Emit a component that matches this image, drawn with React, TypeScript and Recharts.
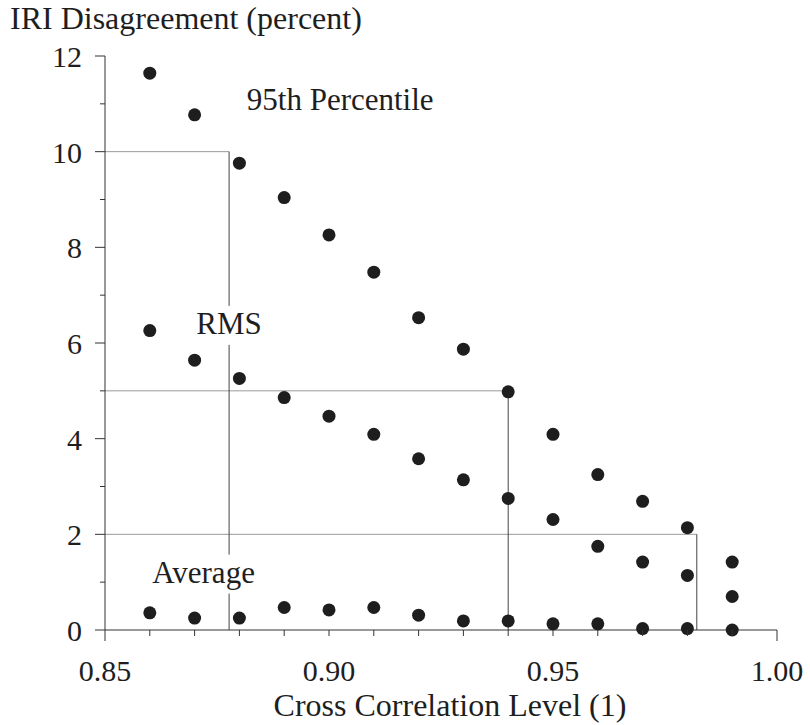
import React from "react";
import {
  ScatterChart,
  Scatter,
  XAxis,
  YAxis,
  ReferenceLine,
  ReferenceDot,
} from "recharts";

const crossCorr = [0.86, 0.87, 0.88, 0.89, 0.9, 0.91, 0.92, 0.93, 0.94, 0.95, 0.96, 0.97, 0.98, 0.99];
const pct95 = [11.64, 10.77, 9.76, 9.04, 8.26, 7.48, 6.53, 5.87, 4.98, 4.09, 3.25, 2.69, 2.14, 1.42];
const rmsVals = [6.26, 5.64, 5.26, 4.86, 4.47, 4.09, 3.58, 3.14, 2.75, 2.31, 1.75, 1.42, 1.14, 0.7];
const avgVals = [0.36, 0.25, 0.25, 0.47, 0.42, 0.47, 0.31, 0.19, 0.19, 0.13, 0.13, 0.03, 0.03, 0.0];

const xTicks = [0.85, 0.86, 0.87, 0.88, 0.89, 0.9, 0.91, 0.92, 0.93, 0.94, 0.95, 0.96, 0.97, 0.98, 0.99, 1.0];
const yTicks = [0, 1, 2, 3, 4, 5, 6, 7, 8, 9, 10, 11, 12];

// threshold readings: disagreement level -> cross correlation level
const thresholdLevels = [10, 5, 2];
const thresholdCorr = [0.8777, 0.94, 0.9821];

const seriesLabels = [
  { text: "95th Percentile", x: 0.9025, y: 11.08 },
  { text: "RMS", x: 0.8777, y: 6.4 },
  { text: "Average", x: 0.872, y: 1.2 },
];

const FONT = '"Liberation Serif", "Times New Roman", serif';
const FS_TICK = 30;
const FS_LABEL = 31;
const FS_TITLE = 32;
const INK = "#1e1e1e";
const AXIS = "#333";

const toPts = (vals: number[]) => crossCorr.map((x, i) => ({ x, y: vals[i] }));

const Dot = (p: any) => <circle cx={p.cx} cy={p.cy} r={6.5} fill={INK} />;

const XTick = (props: any) => {
  const { x, y, payload } = props;
  const v = payload.value as number;
  const hundredths = Math.round(v * 100);
  const major = hundredths % 5 === 0;
  const end = hundredths === 85 || hundredths === 100;
  return (
    <g>
      <line x1={x} x2={x} y1={y} y2={y + (end ? 11 : 6)} stroke={AXIS} strokeWidth={1} />
      {major && (
        <text x={x} y={y + 51} textAnchor="middle" fontFamily={FONT} fontSize={FS_TICK} fill={INK}>
          {v.toFixed(2)}
        </text>
      )}
    </g>
  );
};

const YTick = (props: any) => {
  const { x, y, payload } = props;
  const v = payload.value as number;
  const major = v % 2 === 0;
  return (
    <g>
      <line x1={x - (major ? 10 : 5)} x2={x} y1={y} y2={y} stroke={AXIS} strokeWidth={1} />
      {major && (
        <text x={x - 23} y={y + 11} textAnchor="end" fontFamily={FONT} fontSize={FS_TICK} fill={INK}>
          {v}
        </text>
      )}
    </g>
  );
};

const makeLabel = (text: string) => (p: any) => {
  const w = text.length * FS_LABEL * 0.52;
  return (
    <g>
      <rect x={p.cx - w / 2} y={p.cy - 18} width={w} height={39} fill="#fff" />
      <text
        x={p.cx}
        y={p.cy + 10}
        textAnchor="middle"
        fontFamily={FONT}
        fontSize={FS_LABEL}
        fill={INK}
      >
        {text}
      </text>
    </g>
  );
};

export default function App() {
  return (
    <div style={{ position: "absolute", left: 0, top: 0, background: "#fff" }}>
      <ScatterChart
        width={810}
        height={725}
        margin={{ top: 56, right: 33, left: 0, bottom: 0 }}
      >
        <XAxis
          type="number"
          dataKey="x"
          domain={[0.85, 1.0]}
          ticks={xTicks}
          interval={0}
          height={95}
          tickSize={0}
          tickMargin={0}
          tickLine={false}
          axisLine={{ stroke: AXIS, strokeWidth: 1 }}
          tick={<XTick />}
          label={{
            content: () => (
              <text x={450} y={716} textAnchor="middle" fontFamily={FONT} fontSize={FS_TITLE} fill={INK}>
                Cross Correlation Level (1)
              </text>
            ),
          }}
        />
        <YAxis
          type="number"
          dataKey="y"
          domain={[0, 12]}
          ticks={yTicks}
          interval={0}
          width={105}
          tickSize={0}
          tickMargin={0}
          tickLine={false}
          axisLine={{ stroke: AXIS, strokeWidth: 1 }}
          tick={<YTick />}
          label={{
            content: () => (
              <text x={10} y={29} textAnchor="start" fontFamily={FONT} fontSize={FS_TITLE} fill={INK}>
                IRI Disagreement (percent)
              </text>
            ),
          }}
        />
        {thresholdLevels.map((lvl, i) => (
          <ReferenceLine
            key={"h" + i}
            segment={[
              { x: 0.85, y: lvl },
              { x: thresholdCorr[i], y: lvl },
            ]}
            stroke="#9a9a9a"
            strokeWidth={1}
            ifOverflow="visible"
          />
        ))}
        {thresholdLevels.map((lvl, i) => (
          <ReferenceLine
            key={"v" + i}
            segment={[
              { x: thresholdCorr[i], y: lvl },
              { x: thresholdCorr[i], y: 0 },
            ]}
            stroke="#444"
            strokeWidth={1}
            ifOverflow="visible"
          />
        ))}
        {seriesLabels.map((l) => (
          <ReferenceDot
            key={l.text}
            x={l.x}
            y={l.y}
            r={0}
            ifOverflow="visible"
            shape={makeLabel(l.text)}
          />
        ))}
        <Scatter data={toPts(pct95)} shape={Dot} isAnimationActive={false} />
        <Scatter data={toPts(rmsVals)} shape={Dot} isAnimationActive={false} />
        <Scatter data={toPts(avgVals)} shape={Dot} isAnimationActive={false} />
      </ScatterChart>
    </div>
  );
}
